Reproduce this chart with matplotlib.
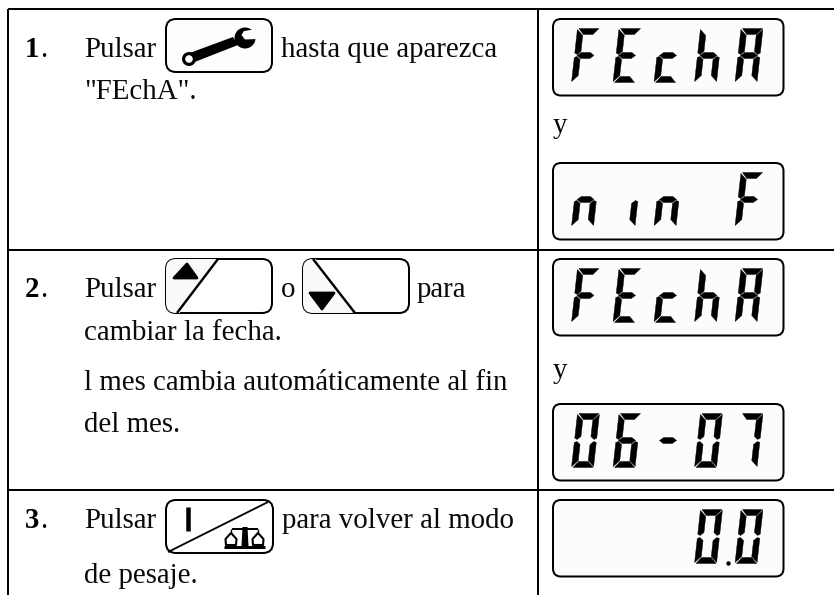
import matplotlib
matplotlib.use("Agg")
import matplotlib.pyplot as plt
from matplotlib.patches import FancyBboxPatch, Polygon, Circle

plt.rcParams['font.family'] = ['Liberation Serif', 'DejaVu Serif']

# content
step_numbers = ["1", "2", "3"]
text_lines = [
    ("Pulsar", 84, 57), ("hasta que aparezca", 281, 57), ('"FEchA".', 84, 99),
    ("Pulsar", 84, 297), ("o", 281, 297), ("para", 417, 297),
    ("cambiar la fecha.", 84, 340),
    ("l mes cambia automáticamente al fin", 84, 390), ("del mes.", 84, 432),
    ("Pulsar", 84, 528), ("para volver al modo", 282, 528), ("de pesaje.", 84, 583),
    ("y", 553, 133), ("y", 553, 378),
]
step_baselines = [57, 297, 528]
display_texts = ["FEchA", "nIn F", "FEchA", "06-07", "   00"]
display_tops = [19, 163, 259, 404, 500]

SEGMENTS = {
    'a': [(1.5, 54), (21.5, 54), (16, 48), (6.5, 48)],
    'd': [(1.5, 0), (21.5, 0), (16, 6), (6.5, 6)],
    'g': [(2.5, 27), (6.5, 30), (15.5, 30), (19.5, 27), (15.5, 24), (6.5, 24)],
    'f': [(0, 53), (6, 47), (6, 31), (2.5, 28), (0, 29.5)],
    'e': [(0, 25), (2.5, 26), (6, 23), (6, 7), (0, 1)],
    'b': [(22, 53), (16, 47), (16, 31), (19.5, 28), (22, 29.5)],
    'c': [(22, 25), (19.5, 26), (16, 23), (16, 7), (22, 1)],
}
CHARS = {
    'F': 'afeg', 'E': 'afged', 'c': 'ged', 'h': 'fegc', 'A': 'abcefg',
    'n': 'gec', 'I': 'c', '0': 'abcdef', '6': 'afgedc', '7': 'abc', '-': 'g', ' ': '',
}

fig = plt.figure(figsize=(8.34, 5.95), dpi=100, facecolor='white')
ax = fig.add_axes([0, 0, 1, 1])
ax.set_xlim(0, 834)
ax.set_ylim(595, 0)
ax.axis('off')

INK = '#000000'
LW_RULE = 2.0 * 0.72
LW_BOX = 2.0 * 0.72

# table rules
ax.plot([8.5, 8.5], [8.5, 595], color=INK, lw=LW_RULE, solid_capstyle='butt')
ax.plot([538, 538], [8.5, 595], color=INK, lw=LW_RULE, solid_capstyle='butt')
for y in [9, 249.5, 489.5]:
    ax.plot([8, 834], [y, y], color=INK, lw=LW_RULE, solid_capstyle='butt')

# text
for n, y in zip(step_numbers, step_baselines):
    ax.text(24.5, y, n, fontsize=20.8, fontweight='bold', va='baseline', ha='left', color=INK)
    ax.text(40, y, ".", fontsize=20.8, va='baseline', ha='left', color=INK)
for s, x, y in text_lines:
    ax.text(x, y, s, fontsize=20.8, va='baseline', ha='left', color='#0a0a0a')


def rbox(x0, y0, x1, y1, r=10, fc='white', lw=LW_BOX):
    p = FancyBboxPatch((x0, y0), x1 - x0, y1 - y0,
                       boxstyle=f"round,pad=0,rounding_size={r}",
                       fc=fc, ec=INK, lw=lw, zorder=2)
    ax.add_patch(p)
    return p


def line(xs, ys, lw=LW_BOX, z=4):
    ax.plot(xs, ys, color=INK, lw=lw, solid_capstyle='butt', zorder=z)


def poly(pts, fc=INK, z=4, ec=None, lw=0):
    p = Polygon(pts, closed=True, fc=fc, ec=ec if ec else fc, lw=lw, zorder=z, joinstyle='round')
    ax.add_patch(p)
    return p


# wrench button
rbox(166, 19, 272, 72, fc='#fdfdfd')
poly([(187, 54), (233, 37), (238, 45), (192, 63)])
ax.add_patch(Circle((189, 59), 7, fc=INK, ec=INK, lw=0, zorder=4))
ax.add_patch(Circle((189, 59), 3.8, fc='white', ec='white', lw=0, zorder=5))
ax.add_patch(Circle((245, 38), 10.5, fc=INK, ec=INK, lw=0, zorder=4))
poly([(254, 29.5), (244, 31), (241.5, 35), (245, 39.5), (257.5, 39), (263, 33), (258, 26)],
     fc='#fdfdfd', z=5)

# up button
b = rbox(166, 259, 272, 313)
p = poly([(160, 255), (219, 255), (177, 317), (160, 317)], fc='#f9f9f9', z=3)
p.set_clip_path(b)
line([218, 177], [259, 313], lw=2.4 * 0.72)
poly([(187, 264), (174, 278), (197, 278)], lw=2.0)

# down button
b = rbox(303, 259, 409, 313)
p = poly([(300, 255), (313, 255), (356, 317), (300, 317)], fc='#f9f9f9', z=3)
p.set_clip_path(b)
line([313, 355], [259, 313], lw=2.4 * 0.72)
poly([(310, 293), (334, 293), (322, 309)], lw=2.0)

# tare button
rbox(166, 500, 273, 553)
line([168, 268], [552, 502], lw=1.8 * 0.72)
line([188, 188], [507, 531], lw=4.5 * 0.72)
line([224, 265], [547, 547], lw=3.0 * 0.72)
line([232, 258], [529, 529], lw=2.0 * 0.72)
poly([(242.5, 527), (247.5, 527), (248.5, 546), (241.5, 546)])
for cx in (231, 258):
    poly([(cx, 533), (cx - 5.5, 539), (cx - 5, 545), (cx + 5, 545), (cx + 5.5, 539)],
         fc='white', ec=INK, lw=1.5, z=4)
    line([cx, cx], [529, 533], lw=1.0)

# LCD displays
SLOT_X = [571.5, 613, 654, 694.5, 735]
SKEW = 6 / 54


def draw_char(ch, x0, y_bottom):
    for seg in CHARS[ch]:
        pts = [(x0 + sx + sy * SKEW, y_bottom - sy) for sx, sy in SEGMENTS[seg]]
        poly(pts, lw=0.3)


for text, top in zip(display_texts, display_tops):
    rbox(553, top, 783.5, top + 76.5, r=8, fc='#fcfcfc')
    for ch, x in zip(text, SLOT_X):
        draw_char(ch, x, top + 63.5)

# decimal dot in the last display
ax.add_patch(Circle((728.5, 563.5), 2.2, fc=INK, lw=0, zorder=4))

fig.savefig('out.png', dpi=100, facecolor='white')
